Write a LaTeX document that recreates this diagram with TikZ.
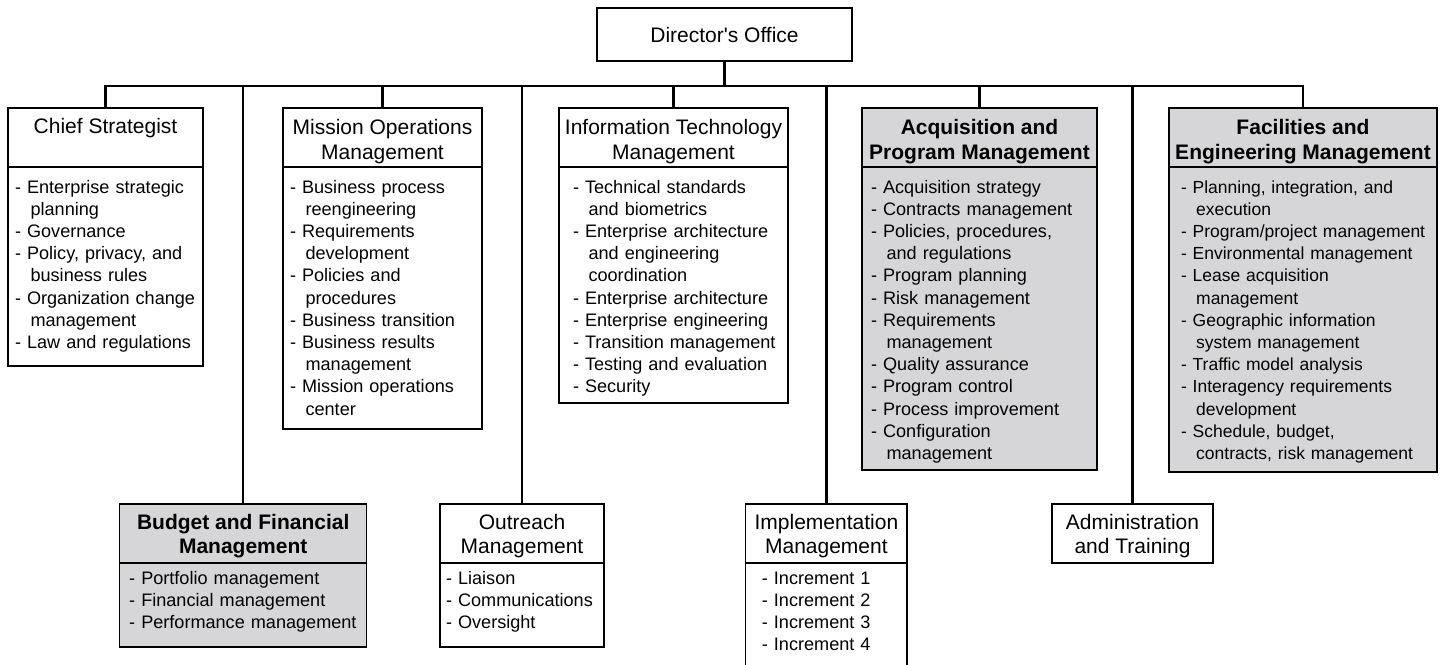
\documentclass[tikz,border=0pt]{standalone}
\usepackage{fontspec}
\setmainfont{Liberation Sans}
\definecolor{unitgrey}{RGB}{214,214,216}
\newcommand{\hdfont}{\fontsize{21}{24.5}\selectfont}
\newcommand{\lsfont}{\fontsize{18.1}{22.2}\selectfont}
\newcommand{\tl}[1][23pt]{\rule{0pt}{#1}}
\newcommand{\itm}[1]{\mbox{\strut- #1}}
\newcommand{\cnt}[1]{\mbox{\strut\hphantom{- }\hspace{3.5pt}#1}}

\begin{document}
\begin{tikzpicture}[x=1pt, y=-1pt,
        hd/.style={draw, line width=1.2pt, outer sep=0pt, inner sep=0pt, anchor=north, minimum height=59pt, align=center, font=\hdfont},
        bd/.style={draw, line width=1.2pt, outer sep=0pt, inner xsep=0pt, inner ysep=10.5pt, anchor=north, align=left, font=\lsfont},
        grey/.style={fill=unitgrey},
        link/.style={line width=2.2pt}]
        \useasboundingbox (0,0) rectangle (1445,664);

        \node[hd, minimum width=255pt, minimum height=53pt, anchor=center] (dir) at (724.5, 34.5) {Director\textquotesingle s Office};

        % top row
        \node[hd, minimum width=195pt] (chiefH) at (105.5, 108) {\tl Chief Strategist\\\strut};
        \node[bd, minimum width=195pt, text width=181pt, minimum height=199pt, text depth=162.5pt] (chiefL) at (chiefH.south)
            {\itm{Enterprise strategic}\\\cnt{planning}\\\itm{Governance}\\\itm{Policy, privacy, and}\\\cnt{business rules}\\\itm{Organization change}\\\cnt{management}\\\itm{Law and regulations}};

        \node[hd, minimum width=199pt] (misH) at (382.5, 108) {\tl Mission Operations\\Management};
        \node[bd, minimum width=199pt, text width=185pt, minimum height=262pt, text depth=225.5pt] (misL) at (misH.south)
            {\itm{Business process}\\\cnt{reengineering}\\\itm{Requirements}\\\cnt{development}\\\itm{Policies and}\\\cnt{procedures}\\\itm{Business transition}\\\itm{Business results}\\\cnt{management}\\\itm{Mission operations}\\\cnt{center}};

        \node[hd, minimum width=229pt] (itH) at (673.5, 108) {\tl Information Technology\\Management};
        \node[bd, minimum width=229pt, text width=201pt, minimum height=236pt, text depth=199.5pt] (itL) at (itH.south)
            {\itm{Technical standards}\\\cnt{and biometrics}\\\itm{Enterprise architecture}\\\cnt{and engineering}\\\cnt{coordination}\\\itm{Enterprise architecture}\\\itm{Enterprise engineering}\\\itm{Transition management}\\\itm{Testing and evaluation}\\\itm{Security}};

        \node[hd, grey, font=\hdfont\bfseries, minimum width=235pt] (acqH) at (979.5, 108) {\tl Acquisition and\\Program Management};
        \node[bd, grey, minimum width=235pt, text width=217pt, minimum height=303pt, text depth=266.5pt] (acqL) at (acqH.south)
            {\itm{Acquisition strategy}\\\itm{Contracts management}\\\itm{Policies, procedures,}\\\cnt{and regulations}\\\itm{Program planning}\\\itm{Risk management}\\\itm{Requirements}\\\cnt{management}\\\itm{Quality assurance}\\\itm{Program control}\\\itm{Process improvement}\\\itm{Configuration}\\\cnt{management}};

        \node[hd, grey, font=\hdfont\bfseries, minimum width=268pt] (facH) at (1303, 108) {\tl Facilities and\\Engineering Management};
        \node[bd, grey, font=\fontsize{17.5}{22.2}\selectfont, minimum width=268pt, text width=244pt, minimum height=305pt, text depth=268.5pt] (facL) at (facH.south)
            {\itm{Planning, integration, and}\\\cnt{execution}\\\itm{Program/project management}\\\itm{Environmental management}\\\itm{Lease acquisition}\\\cnt{management}\\\itm{Geographic information}\\\cnt{system management}\\\itm{Traffic model analysis}\\\itm{Interagency requirements}\\\cnt{development}\\\itm{Schedule, budget,}\\\cnt{contracts, risk management}};

        % bottom row
        \node[hd, grey, font=\hdfont\bfseries, minimum width=247pt] (budH) at (243.2, 504) {\tl[20pt]Budget and Financial\\Management};
        \node[bd, grey, inner ysep=5.5pt, minimum width=247pt, text width=228pt, minimum height=84pt, text depth=57.5pt] (budL) at (budH.south)
            {\itm{Portfolio management}\\\itm{Financial management}\\\itm{Performance management}};

        \node[hd, minimum width=164pt] (outH) at (522, 504) {\tl[20pt]Outreach\\Management};
        \node[bd, inner ysep=5.5pt, minimum width=164pt, text width=152pt, minimum height=84pt, text depth=57.5pt] (outL) at (outH.south)
            {\itm{Liaison}\\\itm{Communications}\\\itm{Oversight}};

        \node[hd, minimum width=161.3pt] (impH) at (826.4, 504) {\tl[20pt]Implementation\\Management};
        \node[bd, inner ysep=5.5pt, minimum width=161.3pt, text width=129pt, minimum height=103pt, text depth=76.5pt] (impL) at (impH.south)
            {\itm{Increment 1}\\\itm{Increment 2}\\\itm{Increment 3}\\\itm{Increment 4}};

        \node[hd, minimum width=161pt] (admH) at (1132.5, 504) {\tl[20pt]Administration\\and Training};

        % connectors
        \coordinate (bus) at (0, 86);
        \draw[link] (dir.south) -- (dir.south |- bus);
        \draw[link] (chiefH.north) |- (facH.north |- bus) -- (facH.north);
        \foreach \n in {budH, misH, outH, itH, impH, acqH, admH}
            \draw[link] (\n.north) -- (\n.north |- bus);
\end{tikzpicture}
\end{document}
